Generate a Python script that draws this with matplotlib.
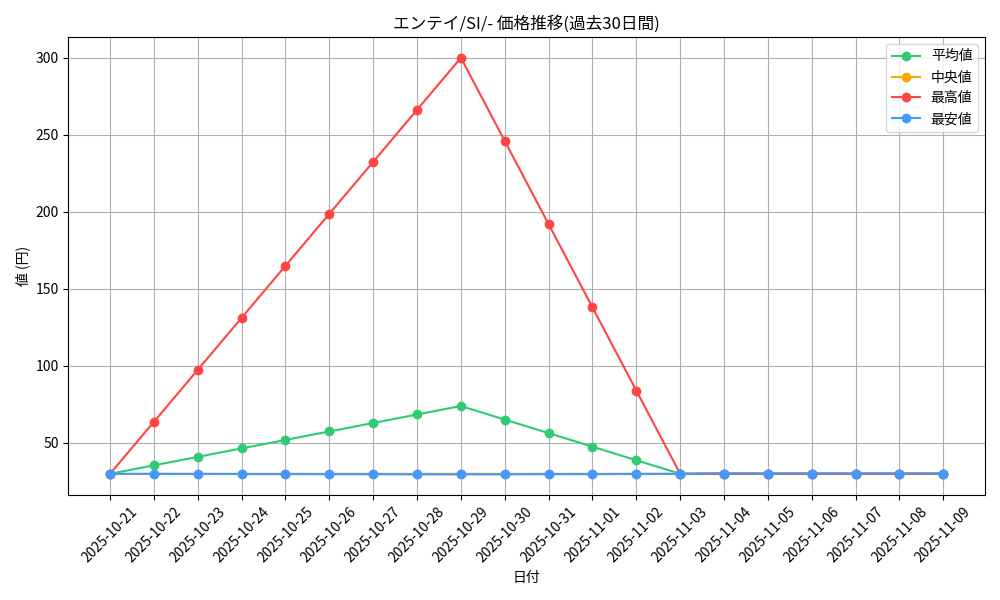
import matplotlib
matplotlib.use('Agg')
import matplotlib.pyplot as plt

plt.rcParams['font.family'] = ['Noto Sans CJK JP', 'DejaVu Sans']

# 日付と各統計値
dates = ['2025-10-21', '2025-10-22', '2025-10-23', '2025-10-24', '2025-10-25',
         '2025-10-26', '2025-10-27', '2025-10-28', '2025-10-29', '2025-10-30',
         '2025-10-31', '2025-11-01', '2025-11-02', '2025-11-03', '2025-11-04',
         '2025-11-05', '2025-11-06', '2025-11-07', '2025-11-08', '2025-11-09']
avg_prices = [30, 35.5, 41, 46.5, 52, 57.5, 63, 68.5, 74, 65.2,
              56.4, 47.6, 38.8, 30, 30.2, 30.2, 30.2, 30.2, 30.2, 30.2]
median_prices = [30, 30, 30, 30, 30, 30, 30, 30, 30, 30,
                 30, 30, 30, 30, 30.2, 30.2, 30.2, 30.2, 30.2, 30.2]
max_prices = [30, 63.75, 97.5, 131.25, 165, 198.75, 232.5, 266.25, 300, 246,
              192, 138, 84, 30, 30, 30, 30, 30, 30, 30]
min_prices = [30, 29.95, 29.9, 29.85, 29.8, 29.75, 29.7, 29.65, 29.6, 29.65,
              29.75, 29.8, 29.9, 30, 30.2, 30.2, 30.2, 30.2, 30.2, 30.2]

fig, ax = plt.subplots(figsize=(10, 6), dpi=100)
ax.plot(dates, avg_prices, marker='o', color='#2ECC71', label='平均値')
ax.plot(dates, median_prices, marker='o', color='#FFA500', label='中央値')
ax.plot(dates, max_prices, marker='o', color='#FF4444', label='最高値')
ax.plot(dates, min_prices, marker='o', color='#4499FF', label='最安値')

ax.set_title('エンテイ/SI/- 価格推移(過去30日間)')
ax.set_xlabel('日付')
ax.set_ylabel('値 (円)')
ax.grid(True)
ax.legend(loc='upper right')
plt.xticks(rotation=45)
plt.tight_layout()
plt.savefig('out.png')
